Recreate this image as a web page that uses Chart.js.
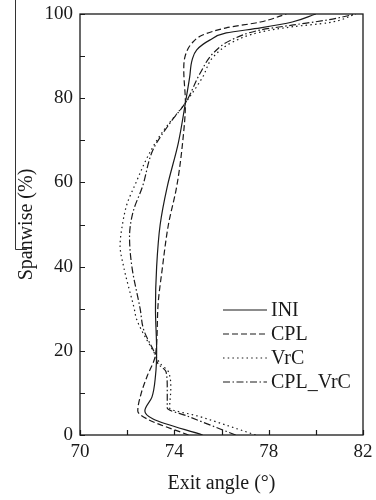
<!DOCTYPE html>
<html>
<head>
<meta charset="utf-8">
<script src="https://cdn.jsdelivr.net/npm/chart.js@4.4.0/dist/chart.umd.min.js"></script>
<style>
  html, body { margin: 0; padding: 0; background: #fff; }
  #wrap { width: 376px; height: 500px; }
</style>
</head>
<body>
<div id="wrap"><canvas id="exitChart"></canvas></div>
<script>
// Exit angle along the span, one pair of arrays per case
const iniSpan  = [0, 3.8, 5.7, 9, 14, 20, 30, 40, 50, 59, 69.4, 78.9, 85, 89, 91.5, 93.8, 95.5, 96.7, 98.1, 100];
const iniAngle = [75.2, 73.1, 72.75, 73.05, 73.2, 73.25, 73.2, 73.25, 73.4, 73.7, 74.17, 74.47, 74.65, 74.75, 74.95, 75.5, 76.2, 77.65, 79.0, 80.0];

const cplSpan  = [0, 3.8, 5.7, 10, 14, 19, 30, 40, 50, 59, 69.4, 78.9, 86.7, 89.8, 93.1, 95, 96.7, 98.1, 100];
const cplAngle = [74.6, 72.85, 72.45, 72.6, 72.85, 73.2, 73.3, 73.5, 73.75, 74.1, 74.35, 74.47, 74.4, 74.45, 74.75, 75.2, 76.2, 77.65, 78.75];

const vrcSpan  = [0, 4.5, 6.4, 11, 15, 17, 19, 27.5, 30, 40, 45, 50, 55, 59, 67, 72, 78.9, 85, 89.8, 93.4, 95.7, 97, 97.9, 100];
const vrcAngle = [77.45, 75.0, 73.8, 73.85, 73.75, 73.4, 73.2, 72.4, 72.3, 71.85, 71.7, 71.8, 72.0, 72.3, 72.95, 73.5, 74.47, 75.2, 75.65, 76.5, 77.65, 79.05, 80.5, 81.7];

const cvSpan  = [0, 4.5, 6.4, 11, 15, 17, 19, 25, 30, 40, 47, 53, 59, 67.8, 74.2, 78.9, 86, 90.7, 93.8, 96.2, 97.4, 98.6, 100];
const cvAngle = [76.6, 74.55, 73.7, 73.7, 73.65, 73.3, 73.2, 72.7, 72.55, 72.2, 72.1, 72.25, 72.65, 73.1, 73.83, 74.47, 75.1, 75.65, 76.4, 77.65, 79.05, 80.5, 81.7];

const caseNames = ['INI', 'CPL', 'VrC', 'CPL_VrC'];
const xTickLabels = [70, 74, 78, 82];
const yTickLabels = [0, 20, 40, 60, 80, 100];

const ink = '#1a1a1a';
const serif = 'Liberation Serif, Times New Roman, serif';
const dashes = [[], [6, 3], [1.5, 3.2], [7, 2.5, 1.5, 2.5]];

function pts(span, angle) {
  return span.map((s, i) => ({ x: angle[i], y: s }));
}

const series = [pts(iniSpan, iniAngle), pts(cplSpan, cplAngle), pts(vrcSpan, vrcAngle), pts(cvSpan, cvAngle)];

// frame, inward ticks, legend and the short rule next to the y title
const decor = {
  id: 'decor',
  afterDraw(chart) {
    const { ctx, chartArea: a, scales } = chart;
    ctx.save();
    ctx.strokeStyle = ink;
    ctx.lineWidth = 1.3;
    ctx.setLineDash([]);
    ctx.strokeRect(a.left, a.top, a.right - a.left, a.bottom - a.top);

    ctx.lineWidth = 1.2;
    ctx.beginPath();
    scales.x.ticks.forEach(t => {
      const px = Math.round(scales.x.getPixelForValue(t.value)) + 0.5;
      ctx.moveTo(px, a.bottom);
      ctx.lineTo(px, a.bottom - 5);
    });
    scales.y.ticks.forEach(t => {
      const py = Math.round(scales.y.getPixelForValue(t.value)) + 0.5;
      ctx.moveTo(a.left, py);
      ctx.lineTo(a.left + 5, py);
    });
    ctx.stroke();

    // thin rule beside the axis title
    ctx.lineWidth = 1;
    ctx.strokeStyle = '#333';
    ctx.beginPath();
    ctx.moveTo(15.5, 0);
    ctx.lineTo(15.5, 249.5);
    ctx.lineTo(27, 249.5);
    ctx.stroke();

    // legend inside the plot
    const x0 = a.left + 143;
    const y0 = a.bottom - 125;
    ctx.font = '20px ' + serif;
    ctx.fillStyle = ink;
    ctx.textBaseline = 'middle';
    chart.data.datasets.forEach((ds, i) => {
      const y = y0 + i * 24;
      ctx.strokeStyle = ink;
      ctx.lineWidth = 1.2;
      ctx.setLineDash(ds.borderDash || []);
      ctx.beginPath();
      ctx.moveTo(x0, y);
      ctx.lineTo(x0 + 44, y);
      ctx.stroke();
      ctx.setLineDash([]);
      ctx.fillText(ds.label, x0 + 48, y + 1);
    });
    ctx.restore();
  }
};

new Chart(document.getElementById('exitChart'), {
  type: 'line',
  data: {
    datasets: series.map((d, i) => ({
      label: caseNames[i],
      data: d,
      borderColor: ink,
      borderWidth: 1.2,
      borderDash: dashes[i],
      pointRadius: 0,
      fill: false,
      cubicInterpolationMode: 'monotone'
    }))
  },
  options: {
    indexAxis: 'y',
    responsive: true,
    maintainAspectRatio: false,
    animation: false,
    layout: { padding: { top: 14, right: 13, left: 0, bottom: 0 } },
    plugins: {
      legend: { display: false },
      tooltip: { enabled: false }
    },
    scales: {
      x: {
        type: 'linear',
        position: 'bottom',
        min: 70,
        max: 82,
        grid: { display: false, drawTicks: false },
        border: { display: false },
        ticks: {
          stepSize: 2,
          autoSkip: false,
          maxRotation: 0,
          padding: 8,
          color: ink,
          font: { family: serif, size: 19, lineHeight: 1 },
          callback: v => xTickLabels.includes(v) ? v : ''
        },
        title: {
          display: true,
          text: 'Exit angle (°)',
          color: ink,
          font: { family: serif, size: 20 },
          padding: { top: 8 }
        },
        afterFit: s => { s.height = 65; s.paddingLeft = 0; s.paddingRight = 0; }
      },
      y: {
        type: 'linear',
        min: 0,
        max: 100,
        grid: { display: false, drawTicks: false },
        border: { display: false },
        ticks: {
          stepSize: 10,
          autoSkip: false,
          padding: 7,
          color: ink,
          font: { family: serif, size: 19, lineHeight: 1 },
          callback: v => yTickLabels.includes(v) ? v : ''
        },
        title: {
          display: true,
          text: 'Spanwise (%)',
          color: ink,
          font: { family: serif, size: 20 },
          padding: { top: 15 }
        },
        afterFit: s => { s.width = 80; s.paddingTop = 0; s.paddingBottom = 0; }
      }
    }
  },
  plugins: [decor]
});
</script>
</body>
</html>
